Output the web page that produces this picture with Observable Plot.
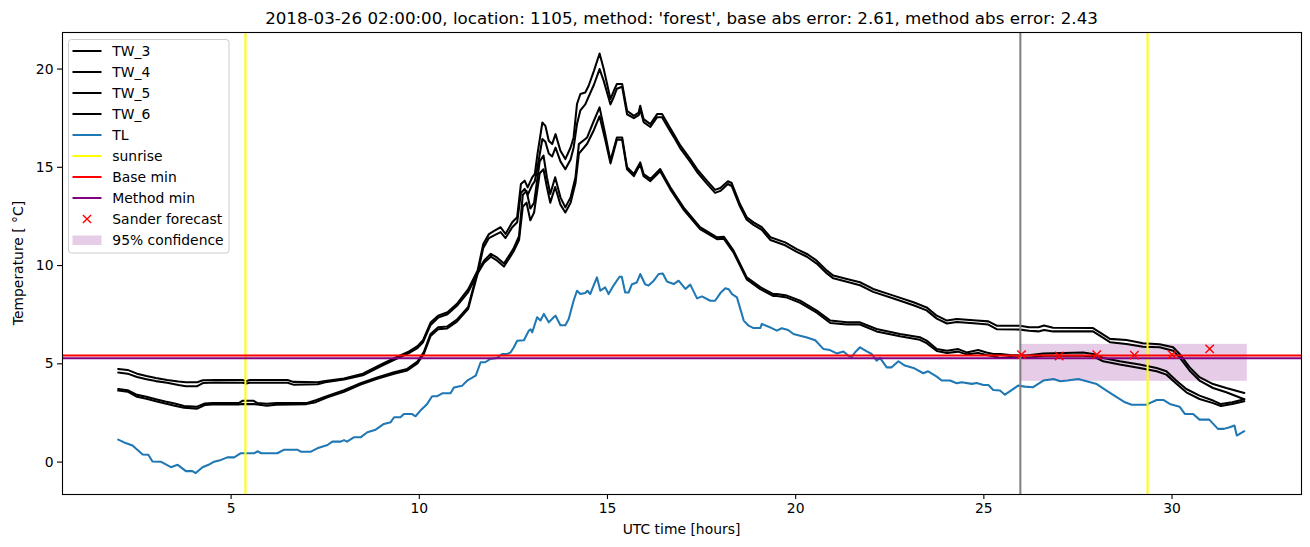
<!DOCTYPE html>
<html>
<head>
<meta charset="utf-8">
<script src="https://cdn.jsdelivr.net/npm/d3@7"></script>
<script src="https://cdn.jsdelivr.net/npm/@observablehq/plot@0.6"></script>
<style>
  html, body { margin: 0; padding: 0; background: white; }
  #wrap { position: relative; width: 1310px; height: 547px; font-family: "DejaVu Sans", sans-serif; }
  #overlay { position: absolute; left: 0; top: 0; pointer-events: none; }
</style>
</head>
<body>
<div id="wrap"></div>
<script>
// ---------------- data ----------------
const titleText = "2018-03-26 02:00:00, location: 1105, method: 'forest', base abs error: 2.61, method abs error: 2.43";
const xLabel = "UTC time [hours]";
const yLabel = "Temperature [ \u00B0C]";
const xTicks = [5, 10, 15, 20, 25, 30];
const yTicks = [0, 5, 10, 15, 20];

// [hour, temperature]
const TW_3 = [[2.0,4.74],[2.25,4.69],[2.5,4.5],[2.75,4.38],[3.0,4.28],[3.3,4.18],[3.6,4.1],[3.8,4.06],[4.1,4.06],[4.25,4.16],[4.6,4.18],[5.3,4.18],[5.4,4.12],[5.5,4.18],[6.5,4.18],[6.65,4.08],[7.3,4.06],[7.5,4.13],[8.0,4.25],[8.5,4.5],[9.0,4.98],[9.35,5.3],[9.7,5.6],[9.95,5.9],[10.1,6.2],[10.3,7.1],[10.5,7.45],[10.75,7.62],[11.0,8.05],[11.3,8.8],[11.55,9.75],[11.7,11.1],[11.85,11.6],[12.0,11.78],[12.16,11.95],[12.29,11.61],[12.47,12.2],[12.6,12.46],[12.7,14.15],[12.8,14.32],[12.88,13.98],[13.0,14.49],[13.07,14.66],[13.14,15.67],[13.27,17.28],[13.35,17.11],[13.44,16.35],[13.53,16.18],[13.62,16.69],[13.75,15.84],[13.88,15.42],[14.02,16.01],[14.1,16.52],[14.19,18.22],[14.28,18.73],[14.41,18.81],[14.5,19.15],[14.64,19.91],[14.79,20.79],[14.9,20.0],[15.08,18.47],[15.17,18.9],[15.25,19.24],[15.39,19.24],[15.52,17.88],[15.7,17.62],[15.83,17.79],[15.87,18.13],[15.96,17.45],[16.14,17.2],[16.32,17.71],[16.45,17.71],[16.58,17.28],[16.76,16.69],[16.94,16.1],[17.2,15.42],[17.38,14.91],[17.64,14.32],[17.86,13.85],[18.0,13.95],[18.2,14.29],[18.3,14.2],[18.52,13.13],[18.7,12.46],[18.88,12.2],[19.1,11.95],[19.33,11.44],[19.72,11.18],[20.03,10.84],[20.3,10.59],[20.56,10.25],[20.83,9.74],[21.0,9.49],[21.36,9.32],[21.71,9.15],[22.06,8.81],[22.6,8.47],[23.13,8.13],[23.48,7.87],[23.75,7.45],[24.02,7.2],[24.28,7.28],[24.81,7.2],[25.12,7.16],[25.34,6.94],[25.96,6.94],[26.2,6.86],[26.45,6.86],[26.6,6.95],[26.84,6.84],[27.9,6.82],[28.08,6.6],[28.35,6.27],[28.79,6.21],[29.23,6.05],[29.67,6.0],[30.03,5.84],[30.2,5.5],[30.47,4.82],[30.73,4.32],[31.09,3.97],[31.44,3.77],[31.92,3.52]];
const TW_4 = [[2.0,4.56],[2.25,4.5],[2.5,4.33],[2.75,4.22],[3.0,4.12],[3.3,4.04],[3.6,3.92],[3.8,3.86],[4.1,3.86],[4.25,4.02],[4.6,4.05],[5.3,4.04],[5.4,4.0],[5.5,4.04],[6.5,4.04],[6.65,3.94],[7.3,3.96],[7.5,4.06],[8.0,4.2],[8.5,4.42],[9.0,4.9],[9.35,5.22],[9.7,5.52],[9.95,5.8],[10.1,6.1],[10.3,6.98],[10.5,7.35],[10.75,7.52],[11.0,7.95],[11.3,8.65],[11.55,9.6],[11.7,10.9],[11.85,11.4],[12.0,11.55],[12.16,11.7],[12.29,11.4],[12.47,11.95],[12.6,12.2],[12.7,13.7],[12.8,13.9],[12.88,13.6],[13.0,14.1],[13.07,14.3],[13.14,15.0],[13.27,16.44],[13.35,16.3],[13.44,15.7],[13.53,15.55],[13.62,16.0],[13.75,15.3],[13.88,14.9],[14.02,15.4],[14.1,16.0],[14.19,17.2],[14.28,17.9],[14.41,18.2],[14.5,18.6],[14.64,19.2],[14.79,20.0],[14.9,19.4],[15.08,18.2],[15.17,18.6],[15.25,19.0],[15.39,19.1],[15.52,17.7],[15.7,17.5],[15.83,17.65],[15.87,17.95],[15.96,17.3],[16.14,17.05],[16.32,17.55],[16.45,17.55],[16.58,17.12],[16.76,16.55],[16.94,15.95],[17.2,15.27],[17.38,14.76],[17.64,14.17],[17.86,13.7],[18.0,13.8],[18.2,14.15],[18.3,14.05],[18.52,13.0],[18.7,12.33],[18.88,12.07],[19.1,11.82],[19.33,11.3],[19.72,11.03],[20.03,10.7],[20.3,10.45],[20.56,10.1],[20.83,9.6],[21.0,9.35],[21.36,9.18],[21.71,9.0],[22.06,8.66],[22.6,8.32],[23.13,7.98],[23.48,7.72],[23.75,7.3],[24.02,7.05],[24.28,7.13],[24.81,7.05],[25.12,7.0],[25.34,6.76],[25.96,6.74],[26.2,6.68],[26.45,6.65],[26.6,6.72],[26.84,6.65],[27.9,6.65],[28.08,6.43],[28.35,6.1],[28.79,6.01],[29.23,5.87],[29.67,5.84],[30.03,5.67],[30.2,5.33],[30.47,4.65],[30.73,4.15],[31.09,3.77],[31.44,3.55],[31.92,3.2]];
const TW_5 = [[2.0,3.72],[2.25,3.66],[2.5,3.42],[2.75,3.33],[3.0,3.2],[3.25,3.08],[3.5,2.98],[3.75,2.85],[4.1,2.82],[4.3,2.98],[4.5,3.0],[5.2,3.0],[5.3,3.12],[5.6,3.12],[5.7,3.0],[5.95,2.97],[6.2,3.0],[7.0,3.0],[7.25,3.15],[7.56,3.37],[8.0,3.66],[8.44,4.01],[8.88,4.31],[9.33,4.57],[9.68,4.74],[9.95,5.12],[10.12,5.6],[10.3,6.52],[10.5,6.86],[10.74,6.9],[11.0,7.25],[11.3,7.9],[11.55,9.7],[11.72,10.25],[11.9,10.6],[12.07,10.4],[12.25,10.1],[12.5,10.85],[12.65,11.5],[12.75,13.6],[12.85,13.8],[12.95,12.9],[13.05,13.2],[13.2,15.3],[13.3,15.6],[13.39,14.5],[13.48,13.64],[13.61,14.49],[13.75,13.47],[13.88,12.96],[14.02,13.47],[14.15,14.49],[14.24,16.18],[14.46,16.52],[14.64,17.37],[14.79,18.05],[14.94,16.69],[15.08,15.33],[15.25,16.52],[15.39,16.52],[15.52,15.0],[15.7,14.66],[15.87,15.25],[15.96,14.66],[16.14,14.41],[16.4,14.91],[16.67,13.98],[17.02,12.96],[17.46,11.95],[17.91,11.44],[18.09,11.47],[18.35,10.76],[18.7,9.4],[19.06,8.9],[19.41,8.55],[19.5,8.55],[19.77,8.47],[20.12,8.21],[20.56,7.71],[20.92,7.2],[21.36,7.11],[21.71,7.11],[22.15,6.77],[22.77,6.52],[23.3,6.35],[23.48,6.18],[23.75,5.75],[24.02,5.67],[24.32,5.75],[24.54,5.58],[24.85,5.7],[25.07,5.58],[25.25,5.5],[25.43,5.5],[25.7,5.45],[26.13,5.42],[26.58,5.53],[27.64,5.58],[27.9,5.5],[28.17,5.3],[28.61,5.13],[29.14,4.96],[29.59,4.79],[29.85,4.62],[30.11,4.15],[30.38,3.72],[30.73,3.38],[31.09,3.13],[31.3,2.95],[31.6,3.05],[31.92,3.2]];
const TW_6 = [[2.0,3.64],[2.25,3.58],[2.5,3.32],[2.75,3.22],[3.0,3.1],[3.25,2.98],[3.5,2.87],[3.75,2.76],[4.1,2.72],[4.3,2.9],[4.5,2.93],[5.2,2.93],[5.3,2.95],[5.6,2.95],[5.7,2.93],[5.95,2.87],[6.2,2.92],[7.0,2.95],[7.25,3.05],[7.56,3.3],[8.0,3.58],[8.44,3.94],[8.88,4.24],[9.33,4.5],[9.68,4.66],[9.95,5.02],[10.12,5.5],[10.3,6.42],[10.5,6.76],[10.74,6.8],[11.0,7.15],[11.3,7.8],[11.55,9.6],[11.72,10.15],[11.9,10.45],[12.07,10.25],[12.25,9.95],[12.5,10.7],[12.65,11.3],[12.75,13.0],[12.85,13.2],[12.95,12.3],[13.05,12.7],[13.2,14.7],[13.3,14.9],[13.39,14.0],[13.48,13.2],[13.61,14.0],[13.75,13.1],[13.88,12.7],[14.02,13.2],[14.15,14.2],[14.24,15.7],[14.46,16.2],[14.64,16.9],[14.79,17.6],[14.94,16.4],[15.08,15.2],[15.25,16.4],[15.39,16.4],[15.52,14.9],[15.7,14.55],[15.87,15.15],[15.96,14.55],[16.14,14.3],[16.4,14.8],[16.67,13.88],[17.02,12.85],[17.46,11.85],[17.91,11.34],[18.09,11.37],[18.35,10.66],[18.7,9.3],[19.06,8.8],[19.41,8.45],[19.5,8.45],[19.77,8.37],[20.12,8.1],[20.56,7.6],[20.92,7.08],[21.36,7.0],[21.71,7.0],[22.15,6.65],[22.77,6.4],[23.3,6.22],[23.48,6.05],[23.75,5.65],[24.02,5.55],[24.32,5.62],[24.54,5.48],[24.85,5.55],[25.07,5.45],[25.25,5.38],[25.43,5.3],[25.7,5.35],[26.13,5.3],[26.58,5.41],[27.64,5.41],[27.9,5.38],[28.17,5.13],[28.61,4.96],[29.14,4.79],[29.59,4.62],[29.85,4.45],[30.11,4.0],[30.38,3.55],[30.73,3.21],[31.09,3.0],[31.3,2.85],[31.6,2.95],[31.92,3.1]];
const TL = [[2.0,1.14],[2.16,1.0],[2.38,0.84],[2.65,0.39],[2.8,0.37],[2.91,0.03],[3.13,0.02],[3.4,-0.26],[3.58,-0.14],[3.8,-0.46],[3.97,-0.46],[4.06,-0.56],[4.24,-0.26],[4.4,-0.14],[4.55,0.02],[4.73,0.11],[4.9,0.24],[5.08,0.24],[5.26,0.45],[5.62,0.45],[5.7,0.55],[5.8,0.45],[6.23,0.45],[6.41,0.63],[6.76,0.63],[6.85,0.53],[7.12,0.53],[7.29,0.7],[7.56,0.87],[7.69,1.04],[7.91,1.04],[8.0,1.12],[8.08,1.04],[8.26,1.26],[8.44,1.26],[8.62,1.52],[8.84,1.65],[9.06,1.94],[9.24,2.03],[9.33,2.28],[9.5,2.28],[9.59,2.45],[9.8,2.45],[9.9,2.33],[10.03,2.62],[10.21,2.96],[10.34,3.35],[10.48,3.35],[10.61,3.5],[10.83,3.5],[10.92,3.8],[11.14,3.89],[11.27,4.14],[11.5,4.4],[11.63,5.08],[11.75,5.08],[11.89,5.25],[12.07,5.3],[12.2,5.5],[12.33,5.5],[12.42,5.57],[12.51,5.83],[12.6,6.17],[12.78,6.2],[12.91,6.69],[12.96,6.75],[13.0,6.6],[13.13,7.37],[13.22,7.2],[13.31,7.54],[13.44,7.11],[13.57,7.37],[13.62,7.45],[13.75,6.96],[13.88,6.96],[13.97,7.28],[14.1,8.21],[14.19,8.72],[14.28,8.55],[14.41,8.6],[14.47,8.72],[14.54,8.55],[14.72,9.4],[14.81,8.72],[14.94,8.89],[15.03,8.55],[15.16,8.98],[15.32,9.43],[15.38,9.43],[15.47,8.63],[15.56,8.63],[15.65,9.05],[15.78,9.14],[15.87,9.57],[16.0,9.05],[16.09,8.98],[16.23,9.23],[16.36,9.57],[16.47,9.6],[16.58,9.19],[16.76,9.06],[16.89,9.23],[17.07,8.81],[17.2,9.03],[17.38,8.33],[17.51,8.43],[17.73,8.21],[17.86,8.21],[18.0,8.6],[18.13,8.84],[18.22,8.8],[18.31,8.55],[18.44,8.38],[18.62,7.2],[18.75,6.94],[18.88,6.82],[19.06,6.82],[19.1,7.03],[19.28,6.89],[19.5,6.69],[19.63,6.81],[19.8,6.72],[19.94,6.52],[20.12,6.43],[20.3,6.34],[20.52,6.2],[20.74,5.75],[20.91,5.7],[21.09,5.53],[21.27,5.63],[21.4,5.41],[21.49,5.35],[21.58,5.59],[21.71,5.84],[21.89,5.63],[22.02,5.5],[22.15,5.16],[22.24,5.3],[22.42,4.82],[22.55,4.82],[22.73,5.13],[22.9,4.91],[23.13,4.79],[23.39,4.52],[23.52,4.62],[23.75,4.35],[23.88,4.15],[24.1,4.15],[24.28,4.01],[24.41,4.06],[24.68,3.98],[24.81,4.02],[24.99,3.92],[25.12,3.92],[25.25,3.67],[25.43,3.64],[25.56,3.43],[25.69,3.6],[25.91,3.89],[26.09,3.84],[26.31,3.81],[26.58,4.15],[26.85,4.23],[27.03,4.11],[27.22,4.15],[27.51,4.23],[27.73,4.11],[28.0,3.97],[28.26,3.64],[28.53,3.3],[28.75,3.04],[28.93,2.92],[29.32,2.92],[29.59,3.16],[29.77,3.16],[29.94,2.96],[30.2,2.82],[30.34,2.45],[30.56,2.45],[30.73,2.16],[30.99,2.16],[31.22,1.69],[31.38,1.69],[31.53,1.77],[31.66,1.86],[31.72,1.35],[31.92,1.57]];

const sunriseHours = [5.38, 29.35];
const baseMin = 5.42;
const methodMin = 5.28;
const forecastHour = 25.97;
const sanderHours = [26, 27, 28, 29, 30, 31];
const sanderValues = [5.47, 5.40, 5.47, 5.44, 5.47, 5.76];
const confidence = {x1: 25.97, x2: 32.0, low: 4.11, high: 5.99};

const legendLabels = ["TW_3", "TW_4", "TW_5", "TW_6", "TL", "sunrise", "Base min", "Method min", "Sander forecast", "95% confidence"];
const legendKinds  = ["line", "line", "line", "line", "line", "line", "line", "line", "cross", "patch"];
const legendColors = ["black", "black", "black", "black", "#1f77b4", "yellow", "red", "purple", "red", "purple"];

// ---------------- chart ----------------
const W = 1310, H = 547;
const sander = sanderHours.map((h, i) => ({h, v: sanderValues[i]}));
const twSeries = [TW_3, TW_4, TW_5, TW_6];

const chart = Plot.plot({
  width: W, height: H,
  marginLeft: 62, marginRight: 9, marginTop: 32, marginBottom: 53,
  style: {fontFamily: "DejaVu Sans", fontSize: "13.9px", background: "white", color: "black", overflow: "visible"},
  x: {domain: [0.52, 33.44]},
  y: {domain: [-1.65, 21.86]},
  marks: [
    Plot.rect([confidence], {x1: "x1", x2: "x2", y1: "low", y2: "high", fill: "purple", fillOpacity: 0.2}),
    ...twSeries.map(s => Plot.line(s, {x: d => d[0], y: d => d[1], stroke: "black", strokeWidth: 2.05})),
    Plot.line(TL, {x: d => d[0], y: d => d[1], stroke: "#1f77b4", strokeWidth: 2.05}),
    Plot.ruleX(sunriseHours, {stroke: "yellow", strokeWidth: 2.05}),
    Plot.ruleY([baseMin], {stroke: "red", strokeWidth: 2.05}),
    Plot.ruleY([methodMin], {stroke: "purple", strokeWidth: 2.05}),
    Plot.ruleX([forecastHour], {stroke: "grey", strokeWidth: 2.05}),
    Plot.dot(sander, {x: "h", y: "v", symbol: "times", r: 3.9, stroke: "red", strokeWidth: 1.4}),
    Plot.axisX({ticks: xTicks, tickFormat: d => String(d), tickSize: 5, tickPadding: 4, label: null, strokeWidth: 1.1}),
    Plot.axisY({ticks: yTicks, tickFormat: d => String(d), tickSize: 5, tickPadding: 4, label: null, strokeWidth: 1.1}),
    Plot.frame({stroke: "black", strokeWidth: 1.1})
  ]
});

const wrap = document.getElementById("wrap");
wrap.appendChild(chart);

// ---------------- overlay: title, axis labels, legend ----------------
const ov = d3.select(wrap).append("svg")
  .attr("id", "overlay").attr("width", W).attr("height", H)
  .style("font-family", "DejaVu Sans");

ov.append("text").attr("x", 681.5).attr("y", 23.5).attr("text-anchor", "middle")
  .style("font-size", "16.7px").attr("fill", "black").text(titleText);

ov.append("text").attr("x", 681.5).attr("y", 534).attr("text-anchor", "middle")
  .style("font-size", "13.9px").attr("fill", "black").text(xLabel);

ov.append("text").attr("transform", "translate(23,263) rotate(-90)").attr("text-anchor", "middle")
  .style("font-size", "13.9px").attr("fill", "black").text(yLabel);

const lg = ov.append("g");
lg.append("rect").attr("x", 68.5).attr("y", 39.5).attr("width", 160.5).attr("height", 213.5)
  .attr("rx", 3).attr("fill", "white").attr("fill-opacity", 0.8).attr("stroke", "#cccccc").attr("stroke-width", 1);
legendLabels.forEach((lab, i) => {
  const cy = 51 + 21 * i;
  const kind = legendKinds[i], col = legendColors[i];
  if (kind === "line") {
    lg.append("line").attr("x1", 72.5).attr("x2", 101.5).attr("y1", cy).attr("y2", cy)
      .attr("stroke", col).attr("stroke-width", 2.05);
  } else if (kind === "cross") {
    const r = 4.1;
    lg.append("path").attr("d", `M${87 - r},${cy - r}L${87 + r},${cy + r}M${87 - r},${cy + r}L${87 + r},${cy - r}`)
      .attr("stroke", col).attr("stroke-width", 1.4);
  } else {
    lg.append("rect").attr("x", 72.5).attr("y", cy - 4.5).attr("width", 29).attr("height", 9.5)
      .attr("fill", col).attr("fill-opacity", 0.2);
  }
  lg.append("text").attr("x", 112.3).attr("y", cy + 5).style("font-size", "13.9px").attr("fill", "black").text(lab);
});
</script>
</body>
</html>
